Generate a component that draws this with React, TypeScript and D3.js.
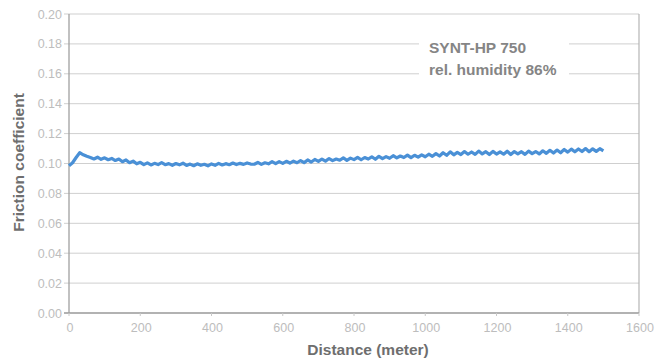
import { useEffect, useRef } from "react";
import * as d3 from "d3";

// friction coefficient, read every 10 m off the picture (0..1500 m)
const distances = d3.range(0, 1501, 10);
const friction = [
  0.0985, 0.1005, 0.104, 0.1072, 0.1058, 0.1048, 0.104, 0.103, 0.1042, 0.1028,
  0.1038, 0.1025, 0.1034, 0.102, 0.103, 0.1012, 0.1024, 0.1005, 0.1016, 0.0998,
  0.1008, 0.0992, 0.1004, 0.099, 0.1001, 0.0993, 0.1006, 0.0992, 0.0999, 0.0988,
  0.1, 0.0991, 0.1002, 0.0987, 0.0996, 0.0985, 0.0998, 0.0988, 0.0995, 0.0984,
  0.0997, 0.0988, 0.1001, 0.099, 0.0999, 0.0992, 0.1003, 0.0993, 0.1001, 0.0994,
  0.1004, 0.0996, 0.0995, 0.1007, 0.0994, 0.1005, 0.0998, 0.1012, 0.0999, 0.1013,
  0.1001, 0.1015, 0.1003, 0.1016, 0.1005, 0.102, 0.1006, 0.1024, 0.101, 0.1027,
  0.1014, 0.103, 0.1016, 0.1033, 0.1019, 0.103, 0.1022, 0.1038, 0.1021, 0.1036,
  0.1026, 0.1041, 0.1025, 0.104, 0.103, 0.1045, 0.1028, 0.1048, 0.1033, 0.1046,
  0.1035, 0.1052, 0.1037, 0.105, 0.104, 0.1056, 0.1039, 0.1055, 0.1043, 0.1058,
  0.1045, 0.1062, 0.1048, 0.1066, 0.105, 0.1072, 0.1055, 0.1078, 0.1058, 0.1074,
  0.106, 0.108, 0.1062, 0.1077, 0.1061, 0.1083, 0.1064, 0.1079, 0.106, 0.1081,
  0.1063, 0.1078, 0.1062, 0.1082, 0.106, 0.108, 0.1065, 0.1079, 0.1061, 0.1083,
  0.1066, 0.108, 0.1064, 0.1085, 0.1068, 0.1088, 0.107, 0.109, 0.1072, 0.1094,
  0.1076, 0.1096, 0.1078, 0.1097, 0.108, 0.11, 0.1079, 0.1098, 0.1081, 0.1099,
  0.1084,
];

const yTicks = [0, 0.02, 0.04, 0.06, 0.08, 0.1, 0.12, 0.14, 0.16, 0.18, 0.2];
const xTicks = [0, 200, 400, 600, 800, 1000, 1200, 1400, 1600];
const legendLines = ["SYNT-HP 750", "rel. humidity 86%"];

const W = 669;
const H = 360;
const margin = { top: 14, right: 30, bottom: 47, left: 69 };

export default function App() {
  const svgRef = useRef<SVGSVGElement>(null);

  useEffect(() => {
    const svg = d3.select(svgRef.current);
    svg.selectAll("*").remove();

    const x = d3.scaleLinear().domain([0, 1600]).range([margin.left, W - margin.right]);
    const y = d3.scaleLinear().domain([0, 0.2]).range([H - margin.bottom, margin.top]);
    const font = "'Liberation Sans', Arial, sans-serif";

    // grid + left ticks
    svg
      .append("g")
      .selectAll("line")
      .data(yTicks)
      .join("line")
      .attr("x1", margin.left - 5)
      .attr("x2", W - margin.right)
      .attr("y1", (d) => y(d))
      .attr("y2", (d) => y(d))
      .attr("stroke", "#cfcfcf")
      .attr("stroke-width", 1);

    // right border
    svg
      .append("line")
      .attr("x1", W - margin.right)
      .attr("x2", W - margin.right)
      .attr("y1", y(0.2))
      .attr("y2", y(0))
      .attr("stroke", "#b5b5b5")
      .attr("stroke-width", 1.2);

    // axes lines
    svg
      .append("line")
      .attr("x1", margin.left)
      .attr("x2", margin.left)
      .attr("y1", y(0.2))
      .attr("y2", y(0))
      .attr("stroke", "#a0a0a0")
      .attr("stroke-width", 1.3);
    svg
      .append("line")
      .attr("x1", margin.left - 5)
      .attr("x2", W - margin.right)
      .attr("y1", y(0))
      .attr("y2", y(0))
      .attr("stroke", "#a0a0a0")
      .attr("stroke-width", 1.3);

    // x tick marks
    svg
      .append("g")
      .selectAll("line")
      .data(xTicks)
      .join("line")
      .attr("x1", (d) => x(d))
      .attr("x2", (d) => x(d))
      .attr("y1", y(0))
      .attr("y2", y(0) + 3)
      .attr("stroke", "#c8c8c8");

    // tick labels
    svg
      .append("g")
      .selectAll("text")
      .data(yTicks)
      .join("text")
      .attr("x", margin.left - 7)
      .attr("y", (d) => y(d) + 4.5)
      .attr("text-anchor", "end")
      .attr("font-family", font)
      .attr("font-size", 12.5)
      .attr("fill", "#bdbdbd")
      .text((d) => d3.format(".2f")(d));

    svg
      .append("g")
      .selectAll("text")
      .data(xTicks)
      .join("text")
      .attr("x", (d) => x(d) + 1)
      .attr("y", y(0) + 19)
      .attr("text-anchor", "middle")
      .attr("font-family", font)
      .attr("font-size", 12.5)
      .attr("fill", "#bdbdbd")
      .text((d) => d);

    // legend text with white knock-out behind it
    const lg = svg.append("g");
    lg.append("rect")
      .attr("x", 419)
      .attr("y", 36)
      .attr("width", 150)
      .attr("height", 44)
      .attr("fill", "#fff");
    lg.selectAll("text")
      .data(legendLines)
      .join("text")
      .attr("x", 429)
      .attr("y", (d, i) => 53 + i * 21.5)
      .attr("font-family", font)
      .attr("font-size", 15.5)
      .attr("font-weight", "bold")
      .attr("fill", "#858585")
      .text((d) => d);

    // data line
    const line = d3
      .line<number>()
      .x((d, i) => x(distances[i]))
      .y((d) => y(d));
    svg
      .append("path")
      .datum(friction)
      .attr("d", line)
      .attr("fill", "none")
      .attr("stroke", "#4a90d6")
      .attr("stroke-width", 3.2)
      .attr("stroke-linejoin", "round");

    // axis titles
    svg
      .append("text")
      .attr("x", 368)
      .attr("y", 355)
      .attr("text-anchor", "middle")
      .attr("font-family", font)
      .attr("font-size", 15.5)
      .attr("font-weight", "bold")
      .attr("fill", "#6e6e6e")
      .text("Distance (meter)");
    svg
      .append("text")
      .attr("transform", `translate(24,162.5) rotate(-90)`)
      .attr("text-anchor", "middle")
      .attr("font-family", font)
      .attr("font-size", 15.5)
      .attr("font-weight", "bold")
      .attr("fill", "#6e6e6e")
      .text("Friction coefficient");
  }, []);

  return (
    <svg
      ref={svgRef}
      width={W}
      height={H}
      style={{ position: "absolute", left: 0, top: 0, background: "#fff" }}
    />
  );
}
